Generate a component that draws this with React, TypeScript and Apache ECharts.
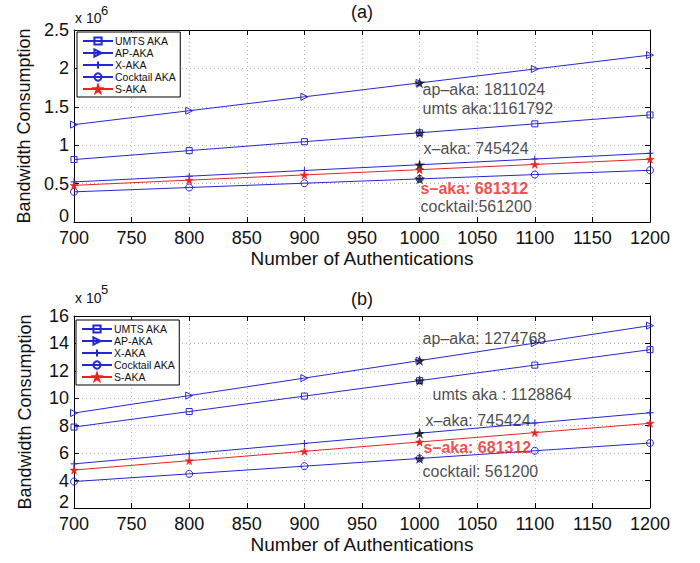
import React, { useEffect, useRef } from "react";
import * as echarts from "echarts";

const authN = [700, 800, 900, 1000, 1100, 1200];

// panel (a)
const umtsA = [813254, 929434, 1045613, 1161792, 1277971, 1394150];
const apA = [1267717, 1448819, 1629922, 1811024, 1992126, 2173229];
const xAkaA = [521797, 596339, 670882, 745424, 819966, 894509];
const cocktailA = [392840, 448960, 505080, 561200, 617320, 673440];
const sAkaA = [476918, 545050, 613181, 681312, 749443, 817574];

// panel (b)
const umtsB = [790205, 903091, 1015978, 1128864, 1241750, 1354637];
const apB = [892338, 1019814, 1147291, 1274768, 1402245, 1529722];
const xAkaB = [521797, 596339, 670882, 745424, 819966, 894509];
const cocktailB = [392840, 448960, 505080, 561200, 617320, 673440];
const sAkaB = [476918, 545050, 613181, 681312, 749443, 817574];

const seriesNames = ["UMTS AKA", "AP-AKA", "X-AKA", "Cocktail AKA", "S-AKA"];
const annotIndex = 3; // N = 1000

const annotTextsA = ["ap\u2013aka: 1811024", "umts aka:1161792", "x\u2013aka: 745424", "s\u2013aka: 681312", "cocktail:561200"];
const annotTextsB = ["ap\u2013aka: 1274768", "umts aka : 1128864", "x\u2013aka: 745424", "s\u2013aka: 681312", "cocktail: 561200"];

const FONT = "Liberation Sans, Arial, Helvetica, sans-serif";
const BLUE = "#2626d4";
const RED = "#ee2020";

const symPlus = "path://M5,0L5,10M0,5L10,5";
const symTriR = "path://M0,0L10,5L0,10Z";
const STAR = "path://M50,0L61.8,35.1L98.9,35.1L68.8,56.7L80.3,91.9L50,70.1L19.7,91.9L31.2,56.7L1.1,35.1L38.2,35.1Z";

export default function App() {
  const ref = useRef<HTMLDivElement>(null);
  useEffect(() => {
    document.body.style.margin = "0";
    const chart = echarts.init(ref.current!, null, { renderer: "svg" });

    const grids = [
      { left: 74, top: 30, width: 576, height: 192 },
      { left: 74, top: 316, width: 576, height: 192 },
    ];

    const mkX = (gi: number, main: boolean) => ({
      type: "value",
      gridIndex: gi,
      position: main ? "bottom" : "top",
      min: 700,
      max: 1200,
      interval: 50,
      name: main ? "Number of Authentications" : "",
      nameLocation: "middle",
      nameGap: 27,
      nameTextStyle: { fontSize: 19, color: "#111", fontFamily: FONT },
      axisLine: { show: true, onZero: false, lineStyle: { color: "#000", width: 1 } },
      axisTick: { show: true, inside: true, length: 5, lineStyle: { color: "#000" } },
      axisLabel: {
        show: main,
        fontSize: 18,
        color: "#111",
        fontFamily: FONT,
        margin: 7,
        formatter: (v: number) => String(v),
      },
      splitLine: {
        show: main,
        lineStyle: { color: "#b5b5b5", type: [1, 3], width: 1 },
      },
    });

    const mkY = (gi: number, main: boolean, min: number, max: number, interval: number, div: number) => ({
      type: "value",
      gridIndex: gi,
      position: main ? "left" : "right",
      min,
      max,
      interval,
      name: main ? "Bandwidth Consumption" : "",
      nameLocation: "middle",
      nameGap: 40,
      nameTextStyle: { fontSize: 18, color: "#111", fontFamily: FONT },
      axisLine: { show: true, onZero: false, lineStyle: { color: "#000", width: 1 } },
      axisTick: { show: true, inside: true, length: 5, lineStyle: { color: "#000" } },
      axisLabel: {
        show: main,
        fontSize: 18,
        color: "#111",
        fontFamily: FONT,
        margin: 5,
        formatter: (v: number) => {
          const t = String(Math.round((v / div) * 10) / 10);
          return v === min ? "{lo|" + t + "}" : t;
        },
        rich: {
          lo: { fontSize: 18, color: "#111", fontFamily: FONT, padding: [0, 0, 12, 0] },
        },
      },
      splitLine: {
        show: main,
        lineStyle: { color: "#b5b5b5", type: [1, 3], width: 1 },
      },
    });

    const hollow = (c: string) => ({ color: "rgba(0,0,0,0)", borderColor: c, borderWidth: 1 });

    const mkLines = (gi: number, data: number[][]) => {
      const specs = [
        { symbol: "rect", size: 6, style: hollow(BLUE), color: BLUE },
        { symbol: symTriR, size: 7, style: hollow(BLUE), color: BLUE },
        { symbol: symPlus, size: 7, style: hollow(BLUE), color: BLUE },
        { symbol: "circle", size: 7, style: hollow(BLUE), color: BLUE },
        { symbol: STAR, size: 8, style: { color: RED, borderColor: RED, borderWidth: 0.5 }, color: RED },
      ];
      return specs.map((s, i) => ({
        type: "line",
        name: seriesNames[i],
        xAxisIndex: gi * 2,
        yAxisIndex: gi * 2,
        data: authN.map((n, k) => [n, data[i][k]]),
        symbol: s.symbol,
        symbolSize: s.size,
        showAllSymbol: true,
        color: s.color,
        itemStyle: s.style,
        lineStyle: { color: s.color, width: 1 },
        emphasis: { disabled: true },
        z: 2,
      }));
    };

    const mkAnnot = (gi: number, data: number[][], texts: string[], offsets: number[][]) => ({
      type: "scatter",
      name: "annot" + gi,
      xAxisIndex: gi * 2,
      yAxisIndex: gi * 2,
      z: 5,
      emphasis: { disabled: true },
      data: data.map((arr, i) => {
        const isS = i === 4;
        const size = isS ? 8 : 11;
        return {
          value: [authN[annotIndex], arr[annotIndex]],
          symbol: STAR,
          symbolSize: size,
          itemStyle: { color: isS ? RED : "#111" },
          label: {
            show: true,
            formatter: texts[i],
            position: [offsets[i][0] + size / 2, offsets[i][1] + size / 2],
            align: "left",
            verticalAlign: "middle",
            fontSize: 16,
            fontFamily: FONT,
            color: isS ? RED : "#1a1a1a",
            fontWeight: isS ? "bold" : "normal",
          },
        };
      }),
    });

    const dataA = [umtsA, apA, xAkaA, cocktailA, sAkaA];
    const dataB = [umtsB, apB, xAkaB, cocktailB, sAkaB];
    const annotOrderA = [apA, umtsA, xAkaA, cocktailA, sAkaA];
    const annotTextOrderA = [annotTextsA[0], annotTextsA[1], annotTextsA[2], annotTextsA[4], annotTextsA[3]];
    const annotOrderB = [apB, umtsB, xAkaB, cocktailB, sAkaB];
    const annotTextOrderB = [annotTextsB[0], annotTextsB[1], annotTextsB[2], annotTextsB[4], annotTextsB[3]];
    const offA = [[3, 7], [3, -24], [4, -16], [1, 28], [1, 19]];
    const offB = [[3, -22], [13, 14], [6, -13], [3, 13], [4, 6]];

    const mkLegend = (left: number, top: number) => ({
      data: seriesNames,
      orient: "vertical",
      left,
      top,
      itemWidth: 30,
      itemHeight: 9,
      itemGap: 0,
      padding: [3, 4, 2, 5],
      borderColor: "#000",
      borderWidth: 1,
      backgroundColor: "#fff",
      selectedMode: false,
      textStyle: { fontSize: 10.5, color: "#111", fontFamily: FONT, lineHeight: 12, padding: [0, 0, 0, -3] },
      z: 10,
    });

    const option: any = {
      animation: false,
      backgroundColor: "#fff",
      grid: grids,
      xAxis: [mkX(0, true), mkX(0, false), mkX(1, true), mkX(1, false)],
      yAxis: [
        mkY(0, true, 0, 2500000, 500000, 1e6),
        mkY(0, false, 0, 2500000, 500000, 1e6),
        mkY(1, true, 200000, 1600000, 200000, 1e5),
        mkY(1, false, 200000, 1600000, 200000, 1e5),
      ],
      legend: [mkLegend(77, 32), mkLegend(76, 320)],
      series: [
        ...mkLines(0, dataA),
        ...mkLines(1, dataB),
        mkAnnot(0, annotOrderA, annotTextOrderA, offA),
        mkAnnot(1, annotOrderB, annotTextOrderB, offB),
      ],
      graphic: [
        { type: "text", x: 362, y: 12, style: { text: "(a)", fontSize: 18, fill: "#111", fontFamily: FONT, textAlign: "center", textVerticalAlign: "middle" } },
        { type: "text", x: 362, y: 299, style: { text: "(b)", fontSize: 18, fill: "#111", fontFamily: FONT, textAlign: "center", textVerticalAlign: "middle" } },
        { type: "text", x: 75, y: 18, style: { text: "x 10", fontSize: 14, fill: "#111", fontFamily: FONT, textAlign: "left", textVerticalAlign: "middle" } },
        { type: "text", x: 101, y: 10, style: { text: "6", fontSize: 13, fill: "#111", fontFamily: FONT, textAlign: "left", textVerticalAlign: "middle" } },
        { type: "text", x: 75, y: 298, style: { text: "x 10", fontSize: 14, fill: "#111", fontFamily: FONT, textAlign: "left", textVerticalAlign: "middle" } },
        { type: "text", x: 101, y: 289, style: { text: "5", fontSize: 13, fill: "#111", fontFamily: FONT, textAlign: "left", textVerticalAlign: "middle" } },
      ],
    };
    chart.setOption(option);
    return () => chart.dispose();
  }, []);
  return <div ref={ref} style={{ width: 700, height: 563 }} />;
}
